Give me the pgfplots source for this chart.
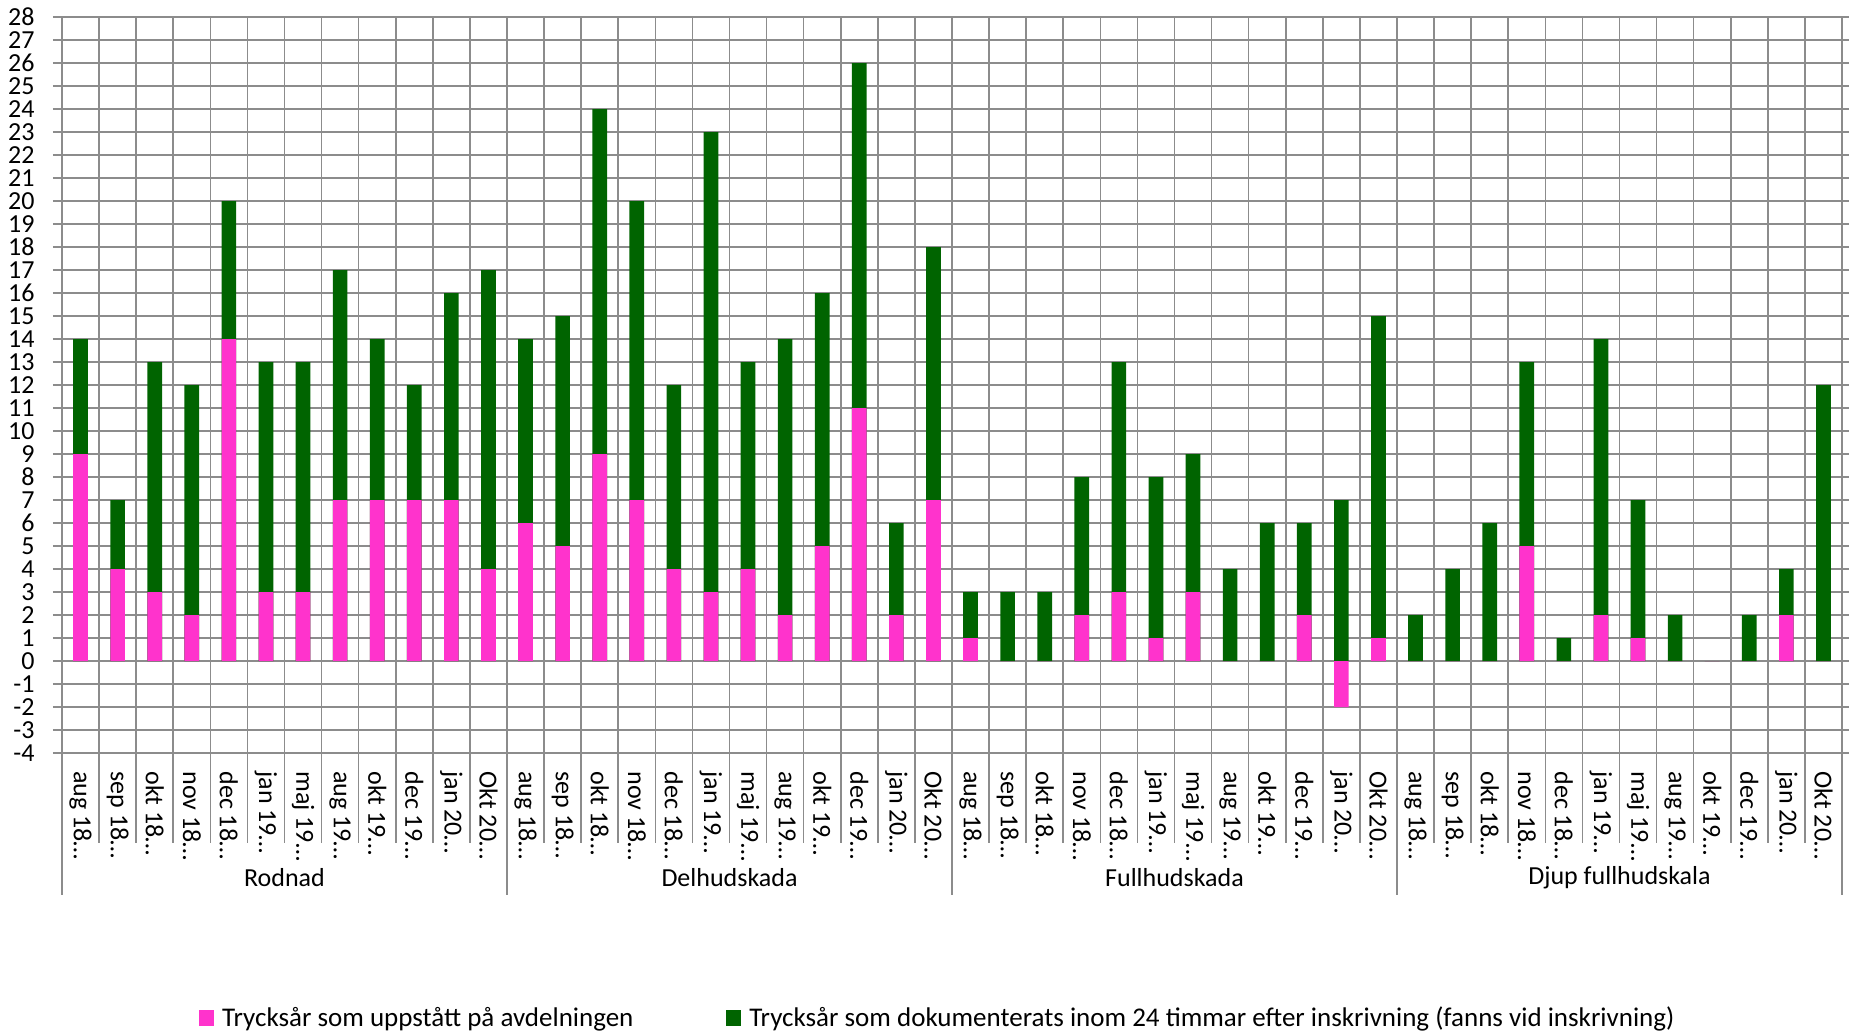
\documentclass[border=0pt]{standalone}
\usepackage{pgfplots}
\pgfplotsset{compat=1.18}
\usepackage{fontspec}
\setmainfont{Carlito}
\definecolor{pinkc}{HTML}{FF33CC}
\definecolor{greenc}{HTML}{006400}
\definecolor{gridc}{HTML}{8C8C8C}
\begin{document}
\begin{tikzpicture}
\useasboundingbox (-31pt,-140.5pt) rectangle (893.5pt,376.5pt);
\begin{axis}[
  at={(0,0)}, anchor=south west,
  scale only axis,
  width=890pt, height=368pt,
  xmin=-0.5, xmax=47.5,
  ymin=-4, ymax=28,
  ytick={-4,-3,...,28},
  xtick={0,1,...,47},
  xticklabels={aug 18…,sep 18…,okt 18…,nov 18…,dec 18…,jan 19…,maj 19…,aug 19…,okt 19…,dec 19…,jan 20…,Okt 20…,
               aug 18…,sep 18…,okt 18…,nov 18…,dec 18…,jan 19…,maj 19…,aug 19…,okt 19…,dec 19…,jan 20…,Okt 20…,
               aug 18…,sep 18…,okt 18…,nov 18…,dec 18…,jan 19…,maj 19…,aug 19…,okt 19…,dec 19…,jan 20…,Okt 20…,
               aug 18…,sep 18…,okt 18…,nov 18…,dec 18…,jan 19…,maj 19…,aug 19…,okt 19…,dec 19…,jan 20…,Okt 20…},
  minor xtick={-0.5,0.5,...,47.5},
  xminorgrids=true, ymajorgrids=true, xmajorgrids=false,
  grid style={gridc, line width=0.8pt},
  minor grid style={gridc, line width=0.8pt},
  axis line style={gridc, line width=0.8pt},
  tick align=outside,
  major tick length=4.5pt,
  minor tick length=0pt,
  xtick style={draw=none},
  ytick style={gridc, line width=0.8pt},
  /pgf/number format/assume math mode=true,
  yticklabel style={font=\fontsize{13}{15}\selectfont, anchor=east, inner sep=0pt, xshift=-9pt},
  xticklabel style={font=\fontsize{13}{15}\selectfont, rotate=-90, anchor=west, inner sep=0pt},
  xticklabel shift=4.5pt,
  ybar, bar width=7.3pt,
  clip=false,
  legend columns=2,
  legend style={at={(axis description cs:0.4915,0)}, anchor=center, yshift=-132.5pt,
    draw=none, font=\fontsize{13.5}{16}\selectfont,
    /tikz/every even column/.append style={column sep=46.5pt},
    /tikz/every odd column/.append style={column sep=4pt},
    nodes={inner sep=0pt}},
]
% totals (green) drawn first, then the part that arose on the ward (pink) on top
\addplot[fill=greenc, draw=none, bar shift=0pt, forget plot] coordinates {
(0,14)(1,7)(2,13)(3,12)(4,20)(5,13)(6,13)(7,17)(8,14)(9,12)(10,16)(11,17)
(12,14)(13,15)(14,24)(15,20)(16,12)(17,23)(18,13)(19,14)(20,16)(21,26)(22,6)(23,18)
(24,3)(25,3)(26,3)(27,8)(28,13)(29,8)(30,9)(31,4)(32,6)(33,6)(34,7)(35,15)
(36,2)(37,4)(38,6)(39,13)(40,1)(41,14)(42,7)(43,2)(44,0)(45,2)(46,4)(47,12)
};
\addplot[fill=pinkc, draw=none, bar shift=0pt, forget plot] coordinates {
(0,9)(1,4)(2,3)(3,2)(4,14)(5,3)(6,3)(7,7)(8,7)(9,7)(10,7)(11,4)
(12,6)(13,5)(14,9)(15,7)(16,4)(17,3)(18,4)(19,2)(20,5)(21,11)(22,2)(23,7)
(24,1)(25,0)(26,0)(27,2)(28,3)(29,1)(30,3)(31,0)(32,0)(33,2)(34,-2)(35,1)
(36,0)(37,0)(38,0)(39,5)(40,0)(41,2)(42,1)(43,0)(44,0)(45,0)(46,2)(47,0)
};
\addlegendimage{legend image code/.code={\fill[pinkc] (0pt,-3.75pt) rectangle (7pt,3.75pt);}}
\addlegendentry{Trycksår som uppstått på avdelningen}
\addlegendimage{legend image code/.code={\fill[greenc] (0pt,-3.75pt) rectangle (7pt,3.75pt);}}
\addlegendentry{Trycksår som dokumenterats inom 24 timmar efter inskrivning (fanns vid inskrivning)}
\end{axis}
% category separators below the axis
\foreach \k in {1,...,47} {
  \draw[gridc, line width=0.8pt] (\k*18.541667pt,0) -- ++(0,-45pt);
}
\foreach \k in {0,12,24,36,48} {
  \draw[gridc, line width=0.8pt] (\k*18.541667pt,0) -- ++(0,-71pt);
}
\node[font=\fontsize{13}{15}\selectfont] at (111.25pt,-62.5pt) {Rodnad};
\node[font=\fontsize{13}{15}\selectfont] at (333.75pt,-62.5pt) {Delhudskada};
\node[font=\fontsize{13}{15}\selectfont] at (556.25pt,-62.5pt) {Fullhudskada};
\node[font=\fontsize{13}{15}\selectfont] at (778.75pt,-62.5pt) {Djup fullhudskala};
\end{tikzpicture}
\end{document}
